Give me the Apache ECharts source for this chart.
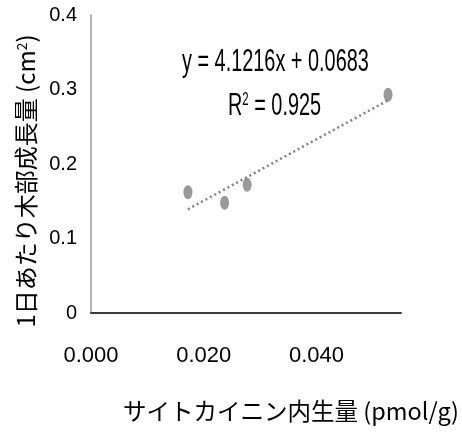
<!DOCTYPE html>
<html>
<head>
<meta charset="utf-8">
<script src="https://cdn.jsdelivr.net/npm/echarts@6/dist/echarts.min.js"></script>
<style>html,body{margin:0;padding:0;background:#fff}#c{width:462px;height:437px}</style>
</head>
<body>
<div id="c"></div>
<script>
var cytokinin = [0.0172, 0.0237, 0.0277, 0.0527];
var growth = [0.162, 0.148, 0.172, 0.293];
var slope = 4.1216;
var intercept = 0.0683;
var equationText = 'y = 4.1216x + 0.0683';
var r2Text = '0.925';
var xTicks = [0, 0.02, 0.04];
var yTicks = [0, 0.1, 0.2, 0.3, 0.4];

var pts = cytokinin.map(function (x, i) { return [x, growth[i]]; });
var xmin = Math.min.apply(null, cytokinin), xmax = Math.max.apply(null, cytokinin);
var trend = [[xmin, slope * xmin + intercept], [xmax, slope * xmax + intercept]];

var chart = echarts.init(document.getElementById('c'));
var sans = '"Liberation Sans",Arial,sans-serif';
var cjk = '"Noto Sans CJK JP","Liberation Sans",sans-serif';
chart.setOption({
  animation: false,
  grid: { left: 91, top: 15, right: 56, bottom: 124 },
  xAxis: {
    type: 'value', min: 0, max: 0.055, interval: 0.02,
    axisLine: { lineStyle: { color: '#3a3a3a', width: 2 } },
    axisTick: { show: false }, splitLine: { show: false },
    axisLabel: {
      margin: 32, fontFamily: sans, fontSize: 22, color: '#000', showMaxLabel: false,
      formatter: function (v) { return xTicks.indexOf(Math.round(v * 1000) / 1000) >= 0 ? v.toFixed(3) : ''; }
    },
    name: 'サイトカイニン内生量 (pmol/g)', nameLocation: 'middle', nameGap: 86,
    nameTextStyle: { fontFamily: cjk, fontSize: 23.5, color: '#000', padding: [0, 0, 0, 90] }
  },
  yAxis: {
    type: 'value', min: 0, max: 0.4, interval: 0.1,
    axisLine: { show: true, lineStyle: { color: '#9a9a9a', width: 1.5 } },
    axisTick: { show: false }, splitLine: { show: false },
    axisLabel: {
      margin: 14, fontFamily: sans, fontSize: 20, color: '#000',
      formatter: function (v) { return yTicks.indexOf(Math.round(v * 10) / 10) >= 0 ? String(Math.round(v * 10) / 10) : ''; }
    },
    name: '1日あたり木部成長量 (cm{s|2})', nameLocation: 'middle', nameGap: 52,
    nameTextStyle: { fontFamily: cjk, fontSize: 24, color: '#000', padding: [0, 34, 0, 0],
      rich: { s: { fontSize: 14, verticalAlign: 'top', padding: [0, 0, 10, 0], fontFamily: cjk, color: '#000' } } }
  },
  series: [
    {
      type: 'line', data: trend, symbol: 'none', silent: true,
      lineStyle: { color: '#808080', width: 2.5, type: [2, 3] }, z: 1
    },
    {
      type: 'scatter', data: pts, symbol: 'circle', symbolSize: [9, 14],
      itemStyle: { color: '#7f7f7f' }, z: 2
    }
  ],
  graphic: [
    { type: 'text', x: 182, y: 47, scaleX: 0.71, scaleY: 1.1,
      style: { text: equationText, font: '28px ' + sans, fill: '#000' } },
    { type: 'text', x: 228, y: 91, scaleX: 0.71, scaleY: 1.1,
      style: { text: 'R{s|2} = ' + r2Text, font: '28px ' + sans, fill: '#000',
        rich: { s: { fontSize: 16, verticalAlign: 'top', fontFamily: sans, fill: '#000' } } } }
  ]
});
</script>
</body>
</html>
